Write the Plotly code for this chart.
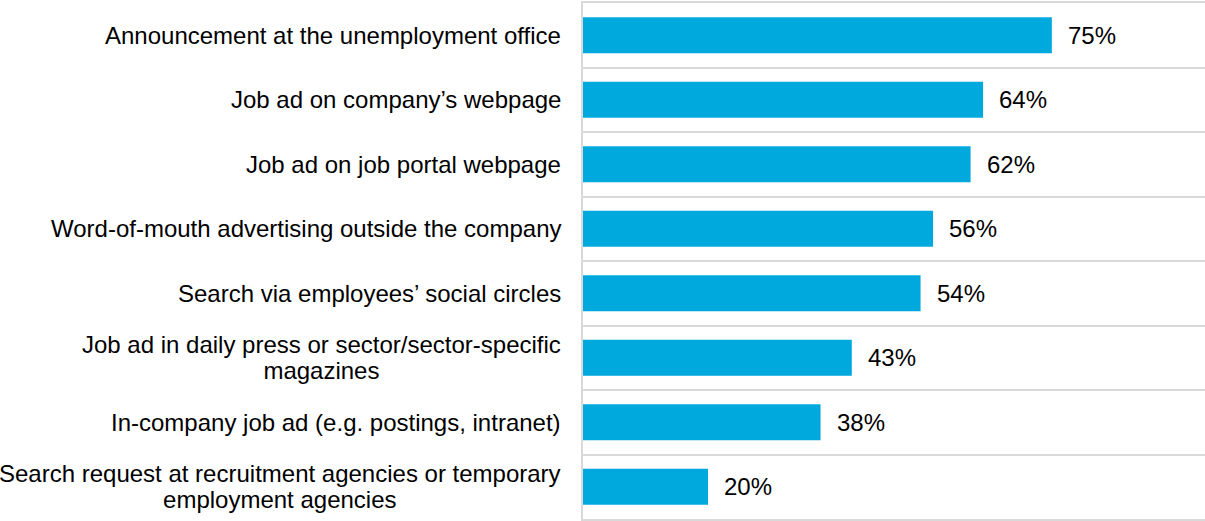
import plotly.graph_objects as go

# Recruitment channels and share of companies using each (%)
categories = [
    "Announcement at the unemployment office",
    "Job ad on company\u2019s webpage",
    "Job ad on job portal webpage",
    "Word-of-mouth advertising outside the company",
    "Search via employees\u2019 social circles",
    "Job ad in daily press or sector/sector-specific<br>magazines",
    "In-company job ad (e.g. postings, intranet)",
    "Search request at recruitment agencies or temporary<br>employment agencies",
]
values = [75, 64, 62, 56, 54, 43, 38, 20]
value_labels = ["75%", "64%", "62%", "56%", "54%", "43%", "38%", "20%"]

BAR_COLOR = "#00A9DD"
GRID_COLOR = "#D9D9D9"
FONT = "Liberation Sans, Arial, sans-serif"

fig = go.Figure(
    go.Bar(
        x=values,
        y=categories,
        orientation="h",
        marker=dict(color=BAR_COLOR, line=dict(width=0)),
        width=0.56,
        hoverinfo="skip",
    )
)

annotations = []
# category labels, centred multi-line text to the left of the axis
for cat in categories:
    lines = cat.split("<br>")
    txt = "<br>".join(f'<span style="font-size:24px">{ln}</span>' for ln in lines)
    annotations.append(
        dict(
            x=0, xref="paper", y=cat, yref="y",
            text=txt, showarrow=False,
            xanchor="right", yanchor="middle", align="center",
            xshift=-20,
            font=dict(family=FONT, size=20, color="#000000"),
        )
    )
# value labels at the end of each bar
for cat, v, lab in zip(categories, values, value_labels):
    annotations.append(
        dict(
            x=v, xref="x", y=cat, yref="y",
            text=lab, showarrow=False,
            xanchor="left", yanchor="middle",
            xshift=14,
            font=dict(family=FONT, size=24, color="#000000"),
        )
    )

fig.update_layout(
    width=1205,
    height=521,
    margin=dict(l=583, r=0, t=3, b=2),
    paper_bgcolor="white",
    plot_bgcolor="white",
    showlegend=False,
    annotations=annotations,
    xaxis=dict(
        range=[0, 99.5],
        showgrid=False, zeroline=False, showticklabels=False,
        ticks="",
        # top and bottom borders of the category grid
        showline=True, mirror=True,
        linecolor=GRID_COLOR, linewidth=1.5,
    ),
    yaxis=dict(
        type="category",
        categoryorder="array",
        categoryarray=categories,
        range=[7.5, -0.5],
        tickson="boundaries",
        showgrid=True,
        gridcolor=GRID_COLOR,
        gridwidth=1.5,
        showticklabels=False,
        ticks="",
        showline=True,
        linecolor=GRID_COLOR,
        linewidth=1.5,
        zeroline=False,
    ),
)

fig.write_html("out.html")
